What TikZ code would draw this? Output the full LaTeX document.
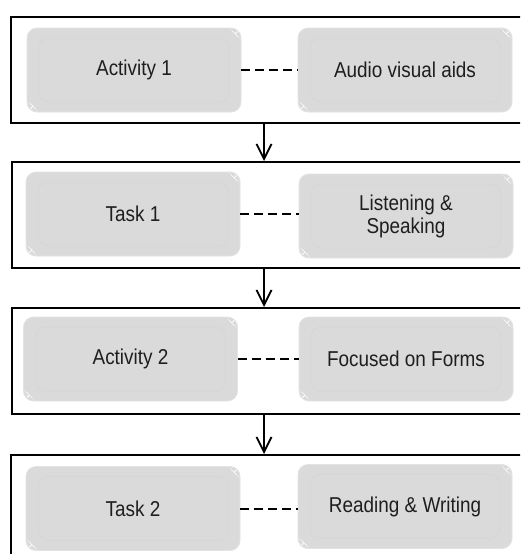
\documentclass[tikz,border=0pt]{standalone}
\usepackage{fontspec}
\setmainfont{Liberation Sans}[FakeStretch=0.88]
\usetikzlibrary{arrows.meta}
\definecolor{boxfill}{HTML}{DADADA}
\definecolor{boxedge}{HTML}{E3E3E3}
\definecolor{bevel}{HTML}{D5D5D5}
\definecolor{txt}{HTML}{1E1E1E}
\tikzset{
  frame/.style={draw=black, line width=2pt, minimum width=530pt, minimum height=106pt, anchor=north west, inner sep=0pt},
  pill/.style={draw=boxedge, line width=0.8pt, fill=boxfill, rounded corners=10pt,
    minimum width=214pt, minimum height=84pt, inner sep=0pt, text=txt, align=center,
    font=\fontsize{21.5pt}{23pt}\selectfont,
    path picture={
      \draw[bevel, line width=0.5pt] ([shift={(12pt,-10pt)}]path picture bounding box.north west) rectangle ([shift={(-12pt,10pt)}]path picture bounding box.south east);
      \fill[white] ([shift={(-10pt,-1.5pt)}]path picture bounding box.north east) to[bend left=35] ([shift={(-1.5pt,-10pt)}]path picture bounding box.north east) -- ([shift={(-6pt,-6pt)}]path picture bounding box.north east) -- cycle;
      \fill[white] ([shift={(10pt,1.5pt)}]path picture bounding box.south west) to[bend left=35] ([shift={(1.5pt,10pt)}]path picture bounding box.south west) -- ([shift={(6pt,6pt)}]path picture bounding box.south west) -- cycle;
    }},
  link/.style={line width=2pt, dash pattern=on 8.7pt off 5.3pt},
  flow/.style={line width=1.8pt, -{Straight Barb[length=15pt, width=15pt, line width=1.8pt]}}
}
\begin{document}
\begin{tikzpicture}[x=1pt,y=-1pt]
\useasboundingbox (0,0) rectangle (520,554);
\clip (0,0) rectangle (520,554);
\fill[white] (0,0) rectangle (520,554);
% frames
\node[frame] (f1) at (10,16) {};
\node[frame] (f2) at (11,161) {};
\node[frame] (f3) at (11,307) {};
\node[frame] (f4) at (10,454) {};
% row 1
\node[pill] (a1) at (134,70) {Activity 1};
\node[pill] (b1) at (405,70) {Audio visual aids};
% row 2
\node[pill] (a2) at (133,214) {Task 1};
\node[pill] (b2) at (406,216) {Listening \&\\Speaking};
% row 3
\node[pill] (a3) at (130.5,359) {Activity 2};
\node[pill] (b3) at (406,359) {Focused on Forms};
% row 4
\node[pill] (a4) at (133,508.5) {Task 2};
\node[pill] (b4) at (405,506.5) {Reading \& Writing};
% dashed links
\draw[link] (a1.east) -- (b1.west |- a1.east);
\draw[link] (a2.east) -- (b2.west |- a2.east);
\draw[link] (a3.east) -- (b3.west |- a3.east);
\draw[link] (a4.east) -- (b4.west |- a4.east);
% arrows
\coordinate (ax) at (264,0);
\draw[flow] (f1.south -| ax) -- (f2.north -| ax);
\draw[flow] (f2.south -| ax) -- (f3.north -| ax);
\draw[flow] (f3.south -| ax) -- (f4.north -| ax);
\end{tikzpicture}
\end{document}
